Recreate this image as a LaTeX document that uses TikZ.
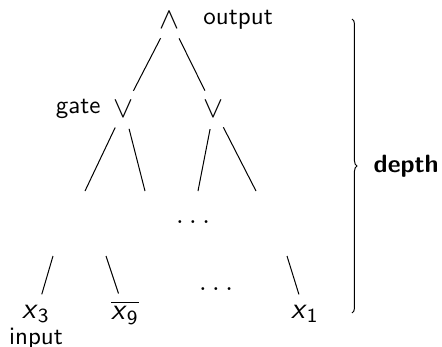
\documentclass[tikz,border=0pt]{standalone}
\usepackage{tikz}
\usetikzlibrary{positioning, decorations.pathreplacing}
\newcommand{\vx}[1]{\textit{x}\textsubscript{#1}}

\begin{document}
\begin{tikzpicture}[
    x=0.4pt, y=-0.4pt,
    every node/.style={font=\sffamily},
    op/.style={circle, inner sep=0pt, minimum size=16pt, font=\sffamily\large},
    lbl/.style={inner sep=0pt},
    wire/.style={draw, line width=0.4pt}
]
    \useasboundingbox (0,0) rectangle (442,347);

    % Output gate
    \node[op] (and) at (170,20) {$\wedge$};
    \node[lbl, right=5pt of and] (output) {output};

    % Second layer
    \node[op] (orl) at (124,109) {$\vee$};
    \node[op] (orr) at (214,109) {$\vee$};
    \node[lbl, left=1pt of orl] (gate) {gate};
    \draw[wire] (and) -- (orl);
    \draw[wire] (and) -- (orr);

    % Open ends below the second layer
    \coordinate (la) at (85,191);
    \coordinate (lb) at (145,191);
    \coordinate (ra) at (198,191);
    \coordinate (rb) at (256,191);
    \draw[wire] (orl) -- (la);
    \draw[wire] (orl) -- (lb);
    \draw[wire] (orr) -- (ra);
    \draw[wire] (orr) -- (rb);
    \node[font=\large] (dotsa) at (193,222) {$\ldots$};

    % Inputs
    \node[op] (xa) at (36,314) {\vx{3}};
    \node[op] (xb) at (125,313) {$\overline{\mbox{\vx{9}}}$};
    \node[op] (xc) at (305,314) {\vx{1}};
    \node[lbl, below=3.6pt of xa.base] (input) {input};
    \node[font=\large] (dotsb) at (216,289) {$\ldots$};
    \coordinate (ia) at (53,256);
    \coordinate (ib) at (106,256);
    \coordinate (ic) at (287,256);
    \draw[wire] (ia) -- (xa);
    \draw[wire] (ib) -- (xb);
    \draw[wire] (ic) -- (xc);

    % Depth brace
    \coordinate (btop) at (352,19);
    \coordinate (bbot) at (352,313);
    \draw[decorate, decoration={brace, amplitude=2pt}] (btop) -- (bbot)
        node[lbl, midway, right=8.5pt] (depth) {\bfseries depth};
\end{tikzpicture}
\end{document}
